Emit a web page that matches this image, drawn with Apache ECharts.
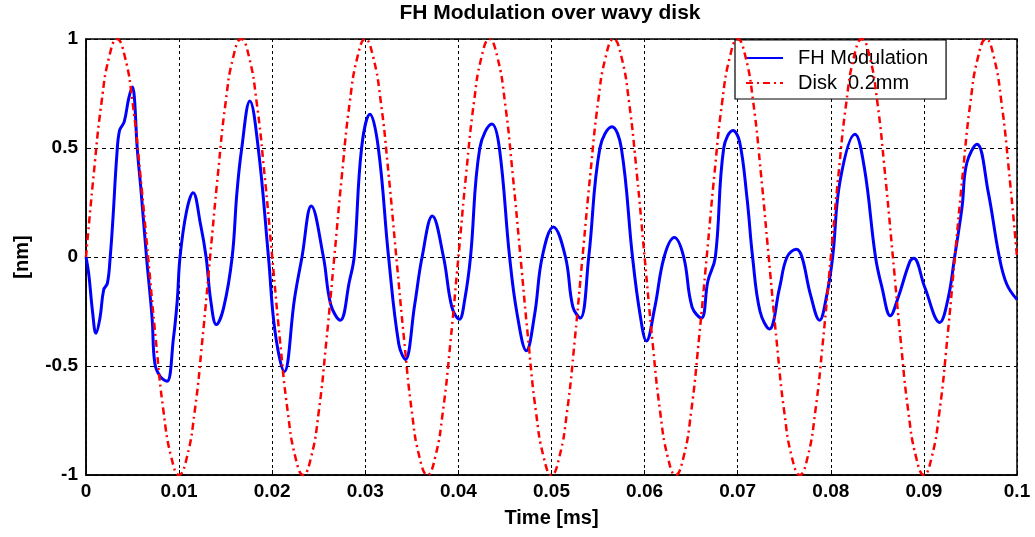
<!DOCTYPE html>
<html>
<head>
<meta charset="utf-8">
<script src="https://cdn.jsdelivr.net/npm/echarts@6/dist/echarts.min.js"></script>
<style>html,body{margin:0;padding:0;background:#fff;}#c{width:1035px;height:537px;}</style>
</head>
<body>
<div id="c"></div>
<script>
// ---- data ----
const fhTime = [0,0.0003,0.0007,0.00107,0.0015,0.0019,0.0023,0.0026,0.0029,0.0033,0.0036,0.0041,0.0046,0.0050,0.0052,0.0055,0.0059,0.0065,0.0071,0.0074,0.0080,0.0087,0.0094,0.0098,0.0101,0.0108,0.0115,0.0123,0.0129,0.0134,0.0140,0.0148,0.0157,0.0162,0.0167,0.0176,0.0185,0.0196,0.0203,0.0213,0.0224,0.0232,0.0242,0.0255,0.0263,0.0273,0.0283,0.0288,0.0296,0.0305,0.0314,0.0325,0.0336,0.0343,0.0353,0.0361,0.0372,0.0384,0.0393,0.0401,0.0407,0.0413,0.0423,0.0436,0.0444,0.0455,0.0463,0.0473,0.0482,0.0490,0.0502,0.0515,0.0523,0.0531,0.0540,0.0552,0.0565,0.0575,0.0587,0.0595,0.0602,0.0611,0.0621,0.0632,0.0642,0.0651,0.0661,0.0668,0.0676,0.0685,0.0695,0.0702,0.0710,0.0716,0.0724,0.0734,0.0745,0.0753,0.0763,0.0769,0.0778,0.0788,0.0795,0.0802,0.0810,0.0826,0.0836,0.0848,0.0855,0.0864,0.0872,0.0885,0.0889,0.0901,0.0917,0.0926,0.0933,0.0941,0.0946,0.0957,0.0969,0.0981,0.0989,0.1];
const fhValue = [0,-0.08,-0.25,-0.35,-0.28,-0.15,-0.12,0,0.18,0.46,0.58,0.62,0.73,0.78,0.73,0.5,0.31,0,-0.28,-0.49,-0.55,-0.57,-0.37,-0.2,0,0.21,0.295,0.15,0,-0.2,-0.31,-0.23,0,0.29,0.49,0.716,0.5,0,-0.34,-0.526,-0.19,0,0.234,0,-0.22,-0.29,-0.11,0,0.5,0.655,0.5,0,-0.4,-0.47,-0.22,0,0.188,0,-0.23,-0.286,-0.19,0,0.5,0.61,0.5,0,-0.26,-0.43,-0.26,0,0.138,0,-0.23,-0.28,0,0.5,0.598,0.5,0,-0.26,-0.385,-0.23,0,0.089,0,-0.23,-0.28,-0.11,0,0.5,0.58,0.53,0.27,0,-0.25,-0.33,-0.14,0,0.035,0,-0.17,-0.29,-0.19,0,0.35,0.563,0.41,0,-0.14,-0.27,-0.19,-0.02,-0.006,-0.14,-0.30,-0.19,0,0.23,0.43,0.517,0.30,0,-0.125,-0.195];

const diskTime = [0,0.00083,0.00167,0.0025,0.00333,0.00417,0.005,0.00583,0.00667,0.0075,0.00833,0.00917,0.01,0.01083,0.01167,0.0125,0.01333,0.01417,0.015,0.01583,0.01667,0.0175,0.01833,0.01917,0.02,0.02083,0.02167,0.0225,0.02333,0.02417,0.025,0.02583,0.02667,0.0275,0.02833,0.02917,0.03,0.03083,0.03167,0.0325,0.03333,0.03417,0.035,0.03583,0.03667,0.0375,0.03833,0.03917,0.04,0.04083,0.04167,0.0425,0.04333,0.04417,0.045,0.04583,0.04667,0.0475,0.04833,0.04917,0.05,0.05083,0.05167,0.0525,0.05333,0.05417,0.055,0.05583,0.05667,0.0575,0.05833,0.05917,0.06,0.06083,0.06167,0.0625,0.06333,0.06417,0.065,0.06583,0.06667,0.0675,0.06833,0.06917,0.07,0.07083,0.07167,0.0725,0.07333,0.07417,0.075,0.07583,0.07667,0.0775,0.07833,0.07917,0.08,0.08083,0.08167,0.0825,0.08333,0.08417,0.085,0.08583,0.08667,0.0875,0.08833,0.08917,0.09,0.09083,0.09167,0.0925,0.09333,0.09417,0.095,0.09583,0.09667,0.0975,0.09833,0.09917,0.1];
const diskValue = [0,0.38,0.71,0.92,1,0.92,0.71,0.38,0,-0.38,-0.71,-0.92,-1,-0.92,-0.71,-0.38,0,0.38,0.71,0.92,1,0.92,0.71,0.38,0,-0.38,-0.71,-0.92,-1,-0.92,-0.71,-0.38,0,0.38,0.71,0.92,1,0.92,0.71,0.38,0,-0.38,-0.71,-0.92,-1,-0.92,-0.71,-0.38,0,0.38,0.71,0.92,1,0.92,0.71,0.38,0,-0.38,-0.71,-0.92,-1,-0.92,-0.71,-0.38,0,0.38,0.71,0.92,1,0.92,0.71,0.38,0,-0.38,-0.71,-0.92,-1,-0.92,-0.71,-0.38,0,0.38,0.71,0.92,1,0.92,0.71,0.38,0,-0.38,-0.71,-0.92,-1,-0.92,-0.71,-0.38,0,0.38,0.71,0.92,1,0.92,0.71,0.38,0,-0.38,-0.71,-0.92,-1,-0.92,-0.71,-0.38,0,0.38,0.71,0.92,1,0.92,0.71,0.38,0];

const seriesNames = ['FH Modulation', 'Disk  0.2mm'];
const titleText = 'FH Modulation over wavy disk';
const xName = 'Time [ms]';
const yName = '[nm]';

const zip = (a, b) => a.map((v, i) => [v, b[i]]);
const FONT = '"Liberation Sans", Arial, sans-serif';

const chart = echarts.init(document.getElementById('c'), null, {renderer: 'canvas'});
chart.setOption({
  animation: false,
  backgroundColor: '#fff',
  title: {
    text: titleText, left: 550, top: 3, textAlign: 'center', padding: 0,
    textStyle: {fontFamily: FONT, fontWeight: 'bold', fontSize: 21, color: '#000'}
  },
  grid: {left: 86, right: 18, top: 39, bottom: 62, show: true, borderColor: '#000', borderWidth: 1.5, backgroundColor: 'transparent'},
  legend: {
    orient: 'vertical', left: 735, top: 40,
    padding: [8, 18, 6, 10], itemGap: 5, itemWidth: 37, itemHeight: 14,
    backgroundColor: '#fff', borderColor: '#000', borderWidth: 1.2, borderRadius: 0,
    itemStyle: {opacity: 0},
    textStyle: {fontFamily: FONT, fontSize: 20, color: '#000', padding: [0, 0, 0, 10]},
    data: seriesNames
  },
  xAxis: {
    type: 'value', min: 0, max: 0.1, interval: 0.01,
    name: xName, nameLocation: 'middle', nameGap: 33,
    nameTextStyle: {fontFamily: FONT, fontWeight: 'bold', fontSize: 20, color: '#000'},
    axisLine: {show: true, onZero: false, lineStyle: {color: '#000', width: 1.5}},
    axisTick: {show: true, inside: true, length: 5, lineStyle: {color: '#000'}},
    axisLabel: {fontFamily: FONT, fontWeight: 'bold', fontSize: 19, color: '#000', margin: 7,
      formatter: v => String(+v.toFixed(3))},
    splitLine: {show: true, lineStyle: {color: '#000', type: [3, 3], width: 1}}
  },
  yAxis: {
    type: 'value', min: -1, max: 1, interval: 0.5,
    name: yName, nameLocation: 'middle', nameGap: 54, nameRotate: 90,
    nameTextStyle: {fontFamily: FONT, fontWeight: 'bold', fontSize: 20, color: '#000'},
    axisLine: {show: true, onZero: false, lineStyle: {color: '#000', width: 1.5}},
    axisTick: {show: true, inside: true, length: 5, lineStyle: {color: '#000'}},
    axisLabel: {fontFamily: FONT, fontWeight: 'bold', fontSize: 19, color: '#000', margin: 8,
      formatter: v => String(+v.toFixed(2))},
    splitLine: {show: true, lineStyle: {color: '#000', type: [4, 4], width: 1}}
  },
  series: [
    {
      name: seriesNames[0], type: 'line', data: zip(fhTime, fhValue),
      smooth: 0.4, symbol: 'none', showSymbol: false, clip: true,
      lineStyle: {color: '#0000ff', width: 3}, itemStyle: {color: '#0000ff'}, z: 3
    },
    {
      name: seriesNames[1], type: 'line', data: zip(diskTime, diskValue),
      smooth: 0.5, symbol: 'none', showSymbol: false, clip: true,
      lineStyle: {color: '#ff0000', width: 2.5, type: [7, 4, 2, 4]}, itemStyle: {color: '#ff0000'}, z: 4
    }
  ]
});
</script>
</body>
</html>
